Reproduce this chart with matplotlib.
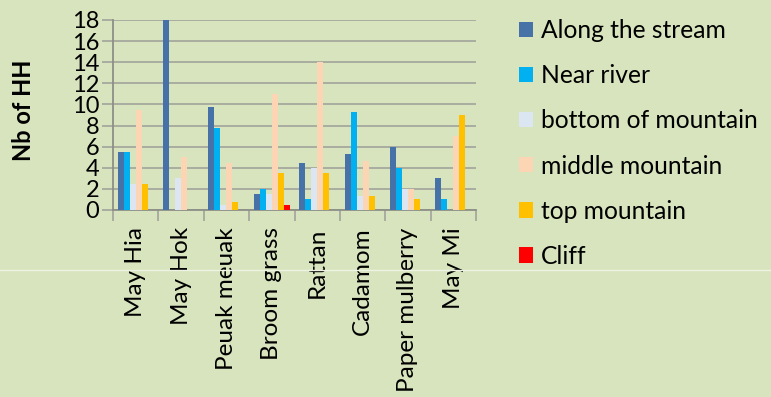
import numpy as np
import matplotlib
matplotlib.use("Agg")
from matplotlib import pyplot as plt
from matplotlib.lines import Line2D

plt.rcParams['font.family'] = ['Lato', 'DejaVu Sans']

# data
categories = ["May Hia", "May Hok", "Peuak meuak", "Broom grass", "Rattan",
              "Cadamom", "Paper mulberry", "May Mi"]
series = ["Along the stream", "Near river", "bottom of mountain",
          "middle mountain", "top mountain", "Cliff"]
along_stream = [5.5, 18, 9.75, 1.5, 4.5, 5.33, 6, 3]
near_river = [5.5, 0, 7.75, 2, 1, 9.33, 4, 1]
bottom_mountain = [2.5, 3, 0.5, 1.5, 4, 1.33, 2, 0]
middle_mountain = [9.5, 5, 4.5, 11, 14, 4.67, 2, 7]
top_mountain = [2.5, 0, 0.75, 3.5, 3.5, 1.33, 1, 9]
cliff = [0, 0, 0, 0.5, 0, 0, 0, 0]
values = [along_stream, near_river, bottom_mountain, middle_mountain, top_mountain, cliff]
colors = ["#4672A8", "#00B0F0", "#DCE6F2", "#FCD5B5", "#FFC000", "#FF0000"]

bg = "#D7E4BD"
grid_c = "#A6A99E"

W, H = 771, 397
fig = plt.figure(figsize=(W / 100, H / 100), dpi=100, facecolor=bg)
ax = fig.add_axes([113 / W, 1 - 210 / H, (476 - 113) / W, 190 / H])
ax.set_facecolor(bg)

n = len(series)
bw = 0.132
x = np.arange(len(categories))
for i in range(n):
    offs = (i - (n - 1) / 2) * bw
    ax.bar(x + offs, values[i], bw, color=colors[i], label=series[i], zorder=3)

ax.set_xlim(-0.5, len(categories) - 0.5)
ax.set_ylim(0, 18)
ax.set_yticks(range(0, 19, 2))
ax.yaxis.grid(True, color=grid_c, lw=1.3, zorder=0)
ax.tick_params(axis='y', length=8, color=grid_c, width=1.3, labelsize=17, pad=2)

ax.set_xticks(np.arange(-0.5, len(categories), 1))
ax.set_xticklabels([])
ax.set_xticks(x, minor=True)
ax.set_xticklabels(categories, minor=True, rotation=90, fontsize=17.5, va='top', ha='center')
ax.tick_params(axis='x', which='major', length=8, color=grid_c, width=1.3)
ax.tick_params(axis='x', which='minor', length=0, pad=12.5)

for s in ['top', 'right']:
    ax.spines[s].set_visible(False)
for s in ['left', 'bottom']:
    ax.spines[s].set_color('#8C8F87')
    ax.spines[s].set_linewidth(1.3)

fig.text(24 / W, 1 - 110 / H, "Nb of HH", rotation=90, fontsize=17, fontweight='bold',
         ha='center', va='center')

leg = fig.legend(loc='upper left', bbox_to_anchor=(497 / W, 1 + 3 / H), frameon=False,
                 fontsize=17.7, handlelength=0.58, handleheight=0.58, handletextpad=0.3,
                 labelspacing=0.9)

fig.add_artist(Line2D([0, 1], [1 - 270 / H, 1 - 270 / H], color='#EEF3E3', lw=1))

fig.savefig("out.png", dpi=100, facecolor=bg)
